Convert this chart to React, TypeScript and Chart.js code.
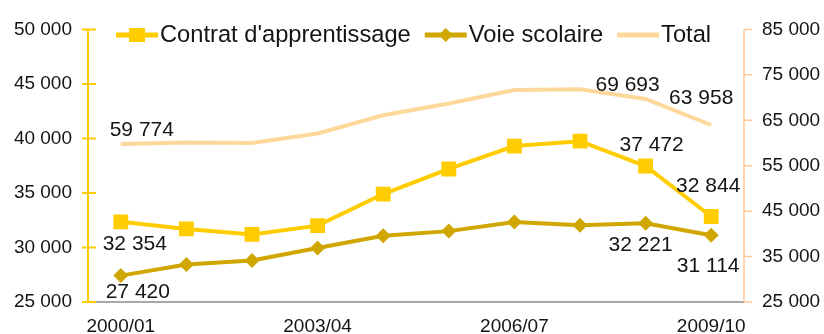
import React, { useEffect, useRef } from "react";
import { Chart, registerables } from "chart.js";

Chart.register(...registerables);

const categories = [
  "2000/01", "2001/02", "2002/03", "2003/04", "2004/05",
  "2005/06", "2006/07", "2007/08", "2008/09", "2009/10",
];
const seriesNames = ["Contrat d'apprentissage", "Voie scolaire", "Total"];
const contratValues = [32354, 31700, 31200, 32000, 34900, 37200, 39300, 39750, 37472, 32844];
const voieValues = [27420, 28440, 28800, 29950, 31070, 31500, 32340, 32040, 32221, 31114];
const totalValues = [59774, 60100, 60000, 62100, 66100, 68700, 71650, 71800, 69693, 63958];
const leftTicks = [25000, 30000, 35000, 40000, 45000, 50000];
const rightTicks = [25000, 35000, 45000, 55000, 65000, 75000, 85000];
const labeledIndices = [0, 8, 9];

const FONT = "'Liberation Sans', Arial, Helvetica, sans-serif";
const TEXT = "#141414";
const C_CONTRAT = "#FFCC00";
const C_VOIE = "#D0A600";
const C_TOTAL = "#FDD89A";

const fmt = (n: number) => String(Math.round(n)).replace(/\B(?=(\d{3})+(?!\d))/g, " ");

// label offsets (px) relative to point, per dataset index, per labeled index
const labelOffsets: Record<number, Record<number, [number, number]>> = {
  0: { 0: [14, 22], 8: [6, -21], 9: [-3, -30] },
  1: { 0: [17, 17], 8: [-5, 22], 9: [-3, 31] },
  2: { 0: [21, -14], 8: [-18, -14], 9: [-10, -27] },
};

const axesPlugin = {
  id: "customAxes",
  beforeDatasetsDraw(chart: any) {
    const { ctx, chartArea } = chart;
    const y = chart.scales.y;
    const y1 = chart.scales.y1;
    ctx.save();
    // x axis
    ctx.strokeStyle = "#8a8a8a";
    ctx.lineWidth = 1.5;
    ctx.beginPath();
    ctx.moveTo(chartArea.left, chartArea.bottom);
    ctx.lineTo(chartArea.right, chartArea.bottom);
    ctx.stroke();
    // left axis
    ctx.strokeStyle = C_CONTRAT;
    ctx.lineWidth = 2;
    ctx.beginPath();
    ctx.moveTo(chartArea.left, chartArea.top);
    ctx.lineTo(chartArea.left, chartArea.bottom);
    leftTicks.forEach((v) => {
      const py = y.getPixelForValue(v);
      ctx.moveTo(chartArea.left - 6, py);
      ctx.lineTo(chartArea.left + 8, py);
    });
    ctx.stroke();
    // right axis
    ctx.strokeStyle = "#FFC896";
    ctx.lineWidth = 1.5;
    ctx.beginPath();
    ctx.moveTo(chartArea.right, chartArea.top);
    ctx.lineTo(chartArea.right, chartArea.bottom);
    rightTicks.forEach((v) => {
      const py = y1.getPixelForValue(v);
      ctx.moveTo(chartArea.right, py);
      ctx.lineTo(chartArea.right + 8, py);
    });
    ctx.stroke();
    ctx.restore();
  },
};

const labelsPlugin = {
  id: "dataLabels",
  afterDatasetsDraw(chart: any) {
    const { ctx } = chart;
    ctx.save();
    ctx.font = `21px ${FONT}`;
    ctx.fillStyle = TEXT;
    ctx.textAlign = "center";
    ctx.textBaseline = "middle";
    chart.data.datasets.forEach((ds: any, di: number) => {
      const meta = chart.getDatasetMeta(di);
      labeledIndices.forEach((i) => {
        const pt = meta.data[i];
        const off = labelOffsets[di][i];
        ctx.fillText(fmt(ds.data[i]), pt.x + off[0], pt.y + off[1]);
      });
    });
    ctx.restore();
  },
};

const legendPlugin = {
  id: "customLegend",
  afterDraw(chart: any) {
    const { ctx } = chart;
    ctx.save();
    ctx.font = `23.7px ${FONT}`;
    ctx.textBaseline = "middle";
    ctx.textAlign = "left";
    let x = 116;
    const cy = 35;
    chart.data.datasets.forEach((ds: any) => {
      ctx.strokeStyle = ds.borderColor;
      ctx.lineWidth = 5;
      ctx.beginPath();
      ctx.moveTo(x, cy);
      ctx.lineTo(x + 42, cy);
      ctx.stroke();
      const mx = x + 21;
      ctx.fillStyle = ds.borderColor;
      if (ds.pointStyle === "rect") {
        ctx.fillRect(mx - 8, cy - 7, 16, 14);
      } else if (ds.pointStyle === "rectRot") {
        ctx.beginPath();
        ctx.moveTo(mx - 7, cy);
        ctx.lineTo(mx, cy - 7);
        ctx.lineTo(mx + 7, cy);
        ctx.lineTo(mx, cy + 7);
        ctx.closePath();
        ctx.fill();
      }
      ctx.fillStyle = TEXT;
      ctx.fillText(ds.label, x + 44, cy);
      x += 44 + ctx.measureText(ds.label).width + 14;
    });
    ctx.restore();
  },
};

export default function App() {
  const canvasRef = useRef<HTMLCanvasElement | null>(null);

  useEffect(() => {
    document.body.style.margin = "0";
    const canvas = canvasRef.current;
    if (!canvas) return;
    const chart = new Chart(canvas, {
      type: "line",
      data: {
        labels: categories,
        datasets: [
          {
            label: seriesNames[0],
            data: contratValues,
            yAxisID: "y",
            borderColor: C_CONTRAT,
            backgroundColor: C_CONTRAT,
            borderWidth: 4,
            pointStyle: "rect",
            pointRadius: 10.5,
            pointHoverRadius: 10.5,
            pointBorderWidth: 0,
            tension: 0,
          },
          {
            label: seriesNames[1],
            data: voieValues,
            yAxisID: "y",
            borderColor: C_VOIE,
            backgroundColor: C_VOIE,
            borderWidth: 4,
            pointStyle: "rectRot",
            pointRadius: 7.5,
            pointHoverRadius: 7.5,
            pointBorderWidth: 0,
            tension: 0,
          },
          {
            label: seriesNames[2],
            data: totalValues,
            yAxisID: "y1",
            borderColor: C_TOTAL,
            backgroundColor: C_TOTAL,
            borderWidth: 4,
            pointRadius: 0,
            pointHoverRadius: 0,
            tension: 0,
          },
        ],
      },
      options: {
        responsive: false,
        animation: false,
        events: [],
        layout: { padding: { top: 26, left: 0, right: 0, bottom: 0 } },
        plugins: {
          legend: { display: false },
          tooltip: { enabled: false },
          title: { display: false },
        },
        scales: {
          x: {
            type: "category",
            offset: true,
            grid: { display: false, drawTicks: false },
            border: { display: false },
            ticks: {
              autoSkip: false,
              maxRotation: 0,
              minRotation: 0,
              padding: 13,
              color: TEXT,
              font: { family: FONT, size: 19 },
              callback: (_v: any, i: number) => (i % 3 === 0 ? categories[i] : ""),
            },
            afterFit: (s: any) => {
              s.height = 32;
            },
          },
          y: {
            type: "linear",
            position: "left",
            min: 25000,
            max: 50000,
            afterBuildTicks: (s: any) => {
              s.ticks = leftTicks.map((v) => ({ value: v }));
            },
            grid: { display: false, drawTicks: false },
            border: { display: false },
            ticks: {
              padding: 16,
              color: TEXT,
              font: { family: FONT, size: 19 },
              callback: (v: any) => fmt(Number(v)),
            },
            afterFit: (s: any) => {
              s.width = 88;
            },
          },
          y1: {
            type: "linear",
            position: "right",
            min: 25000,
            max: 85000,
            afterBuildTicks: (s: any) => {
              s.ticks = rightTicks.map((v) => ({ value: v }));
            },
            grid: { display: false, drawTicks: false },
            border: { display: false },
            ticks: {
              padding: 18,
              color: TEXT,
              font: { family: FONT, size: 19 },
              callback: (v: any) => fmt(Number(v)),
            },
            afterFit: (s: any) => {
              s.width = 80;
            },
          },
        },
      },
      plugins: [axesPlugin, labelsPlugin, legendPlugin],
    } as any);
    return () => chart.destroy();
  }, []);

  return (
    <div style={{ width: 824, height: 334, background: "#ffffff" }}>
      <canvas ref={canvasRef} width={824} height={334} style={{ display: "block" }} />
    </div>
  );
}
